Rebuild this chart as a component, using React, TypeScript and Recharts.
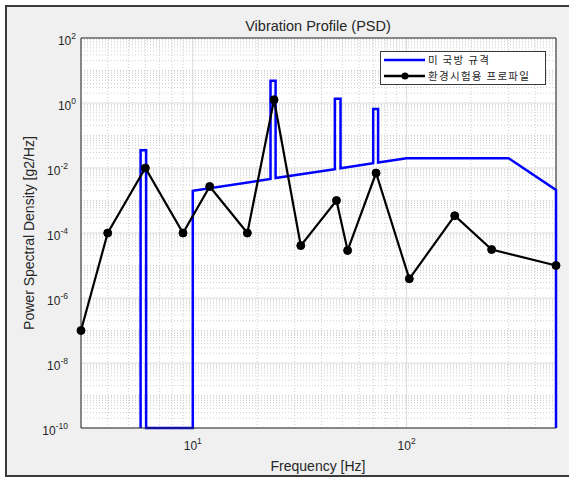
import React from 'react';
import { LineChart, Line, XAxis, YAxis, CartesianGrid, ReferenceLine } from 'recharts';

// 미 국방 규격 (blue step profile)
const milFreq = [5.7, 5.7, 6.05, 6.05, 10, 10, 23.1, 23.1, 24.4, 24.4, 46.2, 46.2, 49.1, 49.1, 69.8, 69.8, 73.6, 73.6, 100, 300, 500, 500];
const milPsd = [1e-10, 0.035, 0.035, 1e-10, 1e-10, 0.002, 0.0046, 4.8, 4.8, 0.0049, 0.0092, 1.35, 1.35, 0.0098, 0.014, 0.65, 0.65, 0.0147, 0.02, 0.02, 0.0021, 1e-10];

// 환경시험용 프로파일 (black markers)
const profFreq = [3, 4, 6, 9, 12, 18, 24, 32, 47, 53, 72, 103, 168, 250, 500];
const profPsd = [1e-7, 1e-4, 0.01, 1e-4, 0.0027, 1e-4, 1.26, 4.1e-5, 1e-3, 2.9e-5, 7e-3, 3.9e-6, 3.4e-4, 3.1e-5, 1e-5];

const xTicks = [10, 100];
const yTicks = [1e-10, 1e-8, 1e-6, 1e-4, 1e-2, 1, 100];

const milData = milFreq.map((f, i) => ({ f, psd: milPsd[i] }));
const profData = profFreq.map((f, i) => ({ f, psd: profPsd[i] }));

// minor grid positions (log grid)
const minorX: number[] = [];
[1, 10, 100].forEach((d) => {
  for (let k = 2; k <= 9; k++) {
    const v = k * d;
    if (v > 3 && v < 500) minorX.push(v);
  }
});
const minorY: number[] = [];
for (let e = -10; e <= 1; e++) {
  for (let k = 1; k <= 9; k++) {
    if (k === 1 && e % 2 === 0) continue;
    minorY.push(k * Math.pow(10, e));
  }
}

const font = '"Liberation Sans", Arial, Helvetica, sans-serif';
const ink = '#262626';

const YTick = (props: any) => {
  const { x, y, payload } = props;
  const e = Math.round(Math.log10(payload.value));
  const right = e < 0 ? x - 9 : x - 1;
  return (
    <text x={right} y={y + 7} textAnchor="end" fontSize={12} fill={ink} fontFamily={font}>
      10<tspan dy={-6} fontSize={8.5}>{e}</tspan>
    </text>
  );
};

const XTick = (props: any) => {
  const { x, y, payload } = props;
  const e = Math.round(Math.log10(payload.value));
  return (
    <text x={x} y={y + 22} textAnchor="middle" fontSize={12} fill={ink} fontFamily={font}>
      10<tspan dy={-6} fontSize={8.5}>{e}</tspan>
    </text>
  );
};

export default function App() {
  return (
    <div style={{ position: 'fixed', left: 0, top: 0, width: 569, height: 477, overflow: 'hidden', background: '#fff' }}>
      <div
        style={{
          position: 'absolute', left: 5, top: 5, width: 590, height: 472,
          boxSizing: 'border-box', border: '2px solid #3a3a3a', background: '#f0f0f0',
        }}
      />
      <div style={{ position: 'absolute', left: 0, top: 0 }}>
        <LineChart width={569} height={477} margin={{ top: 38, right: 13, left: 21, bottom: 0 }}>
          <CartesianGrid fill="#ffffff" fillOpacity={1} stroke="#dcdcdc" />
          {minorX.map((v) => (
            <ReferenceLine key={'mx' + v} x={v} stroke="#cfcfcf" strokeDasharray="1 2" />
          ))}
          {minorY.map((v) => (
            <ReferenceLine key={'my' + v} y={v} stroke="#cfcfcf" strokeDasharray="1 2" />
          ))}
          <ReferenceLine y={100} stroke={ink} />
          <ReferenceLine x={500} stroke={ink} />
          <XAxis
            dataKey="f"
            type="number"
            scale="log"
            domain={[3, 500]}
            ticks={xTicks}
            tick={<XTick />}
            tickLine={false}
            tickSize={0}
            tickMargin={0}
            height={49}
            axisLine={{ stroke: ink }}
          />
          <YAxis
            type="number"
            scale="log"
            domain={[1e-10, 100]}
            ticks={yTicks}
            tick={<YTick />}
            tickLine={false}
            tickSize={0}
            tickMargin={4}
            width={60}
            axisLine={{ stroke: ink }}
          />
          <Line
            data={milData}
            dataKey="psd"
            type="linear"
            stroke="#0000ff"
            strokeWidth={2.5}
            dot={false}
            isAnimationActive={false}
          />
          <Line
            data={profData}
            dataKey="psd"
            type="linear"
            stroke="#000000"
            strokeWidth={2.2}
            dot={{ r: 4, fill: '#000', stroke: '#000', strokeWidth: 1 }}
            isAnimationActive={false}
          />
        </LineChart>
      </div>
      <svg width={569} height={477} style={{ position: 'absolute', left: 0, top: 0, pointerEvents: 'none' }}>
        <text x={318} y={31} textAnchor="middle" fontSize={14.5} fill={ink} fontFamily={font}>
          Vibration Profile (PSD)
        </text>
        <text x={318} y={471} textAnchor="middle" fontSize={14} fill={ink} fontFamily={font}>
          Frequency [Hz]
        </text>
        <text
          x={0}
          y={0}
          transform="translate(34,233) rotate(-90)"
          textAnchor="middle"
          fontSize={14}
          fill={ink}
          fontFamily={font}
        >
          Power Spectral Density [g2/Hz]
        </text>
        <g fontFamily={'"Noto Sans CJK KR", sans-serif'} fontSize={10.5} fill={ink} letterSpacing={1.3}>
          <rect x={380.5} y={51.5} width={165} height={33} fill="#ffffff" stroke="#3a3a3a" strokeWidth={1} />
          <line x1={384} y1={60} x2={425} y2={60} stroke="#0000ff" strokeWidth={2.5} />
          <text x={428} y={64}>미 국방 규격</text>
          <line x1={384} y1={76} x2={425} y2={76} stroke="#000" strokeWidth={2.5} />
          <circle cx={405} cy={76} r={3.5} fill="#000" />
          <text x={428} y={80}>환경시험용 프로파일</text>
        </g>
      </svg>
    </div>
  );
}
